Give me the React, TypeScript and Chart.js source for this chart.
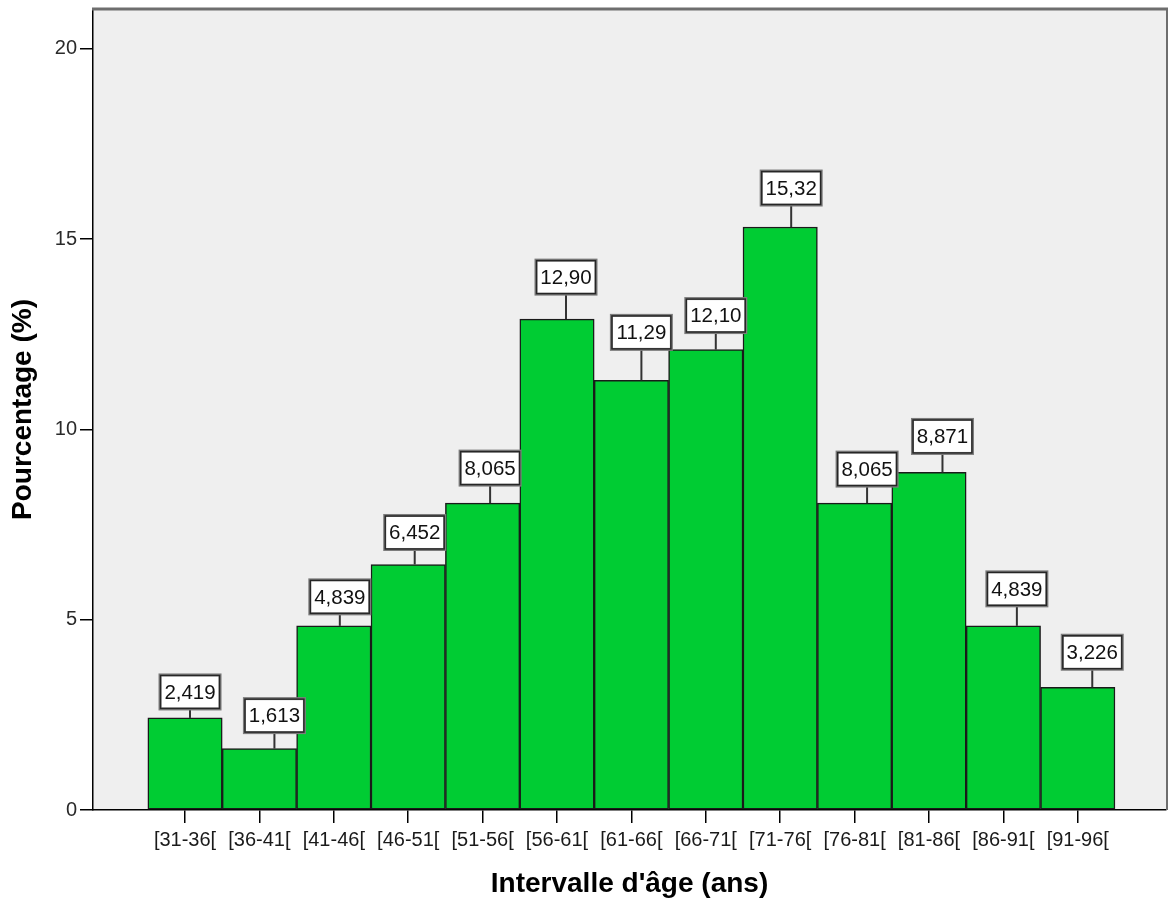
import React, { useEffect, useRef } from "react";
import { Chart, registerables } from "chart.js";

Chart.register(...registerables);

// Age classes and the share (%) of each class
const AGE_BINS = [
  "[31-36[", "[36-41[", "[41-46[", "[46-51[", "[51-56[", "[56-61[", "[61-66[",
  "[66-71[", "[71-76[", "[76-81[", "[81-86[", "[86-91[", "[91-96[",
];
const PERCENTS = [2.419, 1.613, 4.839, 6.452, 8.065, 12.9, 11.29, 12.1, 15.32, 8.065, 8.871, 4.839, 3.226];
const Y_TICKS = [0, 5, 10, 15, 20];

// Value-label placement: horizontal nudge of each box and gap above its bar (px)
const LABEL_DX = [5, 15, 6, 6.5, 7.5, 9, 10, 10, 11, 12.5, 13.5, 13.5, 14.5];
const LABEL_GAP = [9, 16, 12, 15, 18, 25, 31, 17, 22, 17, 19, 20, 18];

const FONT = "'Liberation Sans', Arial, sans-serif";

const fmt = (v: number) => v.toPrecision(4).replace(".", ",");

const plotFrame = {
  id: "plotFrame",
  beforeDraw(chart: any) {
    const { ctx, chartArea: a } = chart;
    ctx.save();
    ctx.fillStyle = "#efefef";
    ctx.fillRect(a.left, a.top, a.right - a.left, a.bottom - a.top);
    ctx.restore();
  },
  afterDraw(chart: any) {
    const { ctx, chartArea: a } = chart;
    ctx.save();
    ctx.strokeStyle = "#6e6e6e";
    ctx.lineWidth = 3;
    ctx.beginPath();
    ctx.moveTo(a.left - 1, a.top);
    ctx.lineTo(a.right + 2, a.top);
    ctx.stroke();
    ctx.lineWidth = 2;
    ctx.beginPath();
    ctx.moveTo(a.right + 1, a.top);
    ctx.lineTo(a.right + 1, a.bottom);
    ctx.stroke();
    ctx.restore();
  },
};

const valueBoxes = {
  id: "valueBoxes",
  afterDatasetsDraw(chart: any) {
    const { ctx } = chart;
    const meta = chart.getDatasetMeta(0);
    const w = 60;
    const h = 34;
    ctx.save();
    meta.data.forEach((bar: any, i: number) => {
      const cx = bar.x + LABEL_DX[i];
      const bottom = bar.y - LABEL_GAP[i];
      const top = bottom - h;
      // connector
      ctx.strokeStyle = "#333";
      ctx.lineWidth = 2;
      ctx.beginPath();
      ctx.moveTo(cx, bottom);
      ctx.lineTo(cx, bar.y);
      ctx.stroke();
      // box
      ctx.fillStyle = "#ffffff";
      ctx.fillRect(cx - w / 2, top, w, h);
      ctx.strokeStyle = "#7c7c7c";
      ctx.lineWidth = 3;
      ctx.strokeRect(cx - w / 2, top, w, h);
      ctx.strokeStyle = "#262626";
      ctx.lineWidth = 1.4;
      ctx.strokeRect(cx - w / 2 + 0.5, top + 0.5, w - 1, h - 1);
      // text
      ctx.fillStyle = "#111";
      ctx.font = `20.5px ${FONT}`;
      ctx.textAlign = "center";
      ctx.textBaseline = "middle";
      ctx.fillText(fmt(PERCENTS[i]), cx, top + h / 2 + 1);
    });
    ctx.restore();
  },
};

export default function App() {
  const ref = useRef<HTMLCanvasElement | null>(null);

  useEffect(() => {
    if (!ref.current) return;
    const chart = new Chart(ref.current, {
      type: "bar",
      data: {
        datasets: [
          {
            data: PERCENTS.map((v, i) => ({ x: i, y: v })),
            backgroundColor: "#00cc33",
            borderColor: "#1a1a1a",
            borderWidth: 1.5,
            borderSkipped: false,
            barPercentage: 1,
            categoryPercentage: 1,
          },
        ],
      },
      options: {
        responsive: false,
        animation: false,
        events: [],
        layout: { padding: { left: 0, top: 9, right: 2, bottom: 0 } },
        plugins: { legend: { display: false }, tooltip: { enabled: false } },
        scales: {
          x: {
            type: "linear",
            offset: false,
            min: -1.237,
            max: 13.186,
            afterBuildTicks: (scale: any) => {
              scale.ticks = AGE_BINS.map((_, i) => ({ value: i }));
            },
            afterFit: (scale: any) => {
              scale.height = 90;
              scale.paddingLeft = 0;
              scale.paddingRight = 0;
            },
            ticks: {
              autoSkip: false,
              maxRotation: 0,
              minRotation: 0,
              padding: 5,
              color: "#1a1a1a",
              font: { family: FONT, size: 20 },
              callback: (v: any) => AGE_BINS[v as number] ?? "",
            },
            grid: {
              offset: false,
              drawOnChartArea: false,
              drawTicks: true,
              tickLength: 13,
              tickColor: "#000",
              lineWidth: 1.5,
            },
            border: { display: true, color: "#000", width: 1.5 },
            title: {
              display: true,
              text: "Intervalle d'âge (ans)",
              color: "#000",
              font: { family: FONT, size: 28, weight: "bold", lineHeight: 1 },
              padding: { top: 0, bottom: 1.5 },
            },
          },
          y: {
            min: 0,
            max: 21.05,
            afterBuildTicks: (scale: any) => {
              scale.ticks = Y_TICKS.map((v) => ({ value: v }));
            },
            afterFit: (scale: any) => {
              scale.width = 93;
              scale.paddingTop = 0;
              scale.paddingBottom = 0;
            },
            ticks: {
              padding: 3,
              color: "#2a2a2a",
              font: { family: FONT, size: 20 },
              callback: (v: any) => String(v),
            },
            grid: {
              drawOnChartArea: false,
              drawTicks: true,
              tickLength: 13,
              tickColor: "#000",
              lineWidth: 1.5,
            },
            border: { display: true, color: "#000", width: 1.5 },
            title: {
              display: true,
              text: "Pourcentage (%)",
              color: "#000",
              font: { family: FONT, size: 28, weight: "bold", lineHeight: 1 },
              padding: { top: 9.5, bottom: 0 },
            },
          },
        },
      } as any,
      plugins: [plotFrame, valueBoxes],
    });
    return () => chart.destroy();
  }, []);

  return (
    <div style={{ position: "fixed", left: 0, top: 0, width: 1168, height: 900, background: "#fff" }}>
      <canvas ref={ref} width={1168} height={900} style={{ display: "block", width: 1168, height: 900 }} />
    </div>
  );
}
